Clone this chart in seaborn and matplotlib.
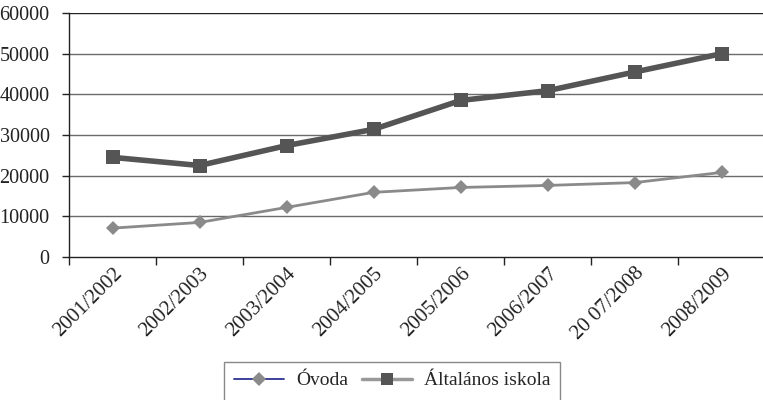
import matplotlib
matplotlib.use("Agg")
import matplotlib.pyplot as plt
import matplotlib.transforms as mtransforms
from matplotlib.patches import Rectangle
import seaborn as sns
import pandas as pd
from matplotlib.lines import Line2D

years = ["2001/2002", "2002/2003", "2003/2004", "2004/2005",
         "2005/2006", "2006/2007", "2007/2008", "2008/2009"]
year_labels = ["2001/2002", "2002/2003", "2003/2004", "2004/2005",
               "2005/2006", "2006/2007", "20 07/2008", "2008/2009"]
ovoda = [7100, 8500, 12200, 15900, 17100, 17600, 18300, 20800]
altalanos = [24500, 22500, 27400, 31400, 38500, 40900, 45500, 50000]
yticks = [0, 10000, 20000, 30000, 40000, 50000, 60000]

sns.set_theme(style="white")
plt.rcParams['font.family'] = ['Liberation Serif', 'DejaVu Serif']

df = pd.DataFrame({"x": list(range(len(years))) * 2,
                   "y": ovoda + altalanos,
                   "s": ["Óvoda"] * len(years) + ["Általános iskola"] * len(years)})

fig = plt.figure(figsize=(7.63, 4.0), dpi=100)
ax = fig.add_axes([69/763, 1 - 257/400, 1 - 69/763 + 0.003, (257 - 13)/400])

for yv in yticks[1:]:
    ax.axhline(yv, color="#222222" if yv == 60000 else "#6a6a6a", lw=1.0, zorder=0)

sns.lineplot(data=df[df.s == "Óvoda"], x="x", y="y", ax=ax, color="#8a8a8a",
             lw=2.0, marker="D", markersize=7, markeredgewidth=0, legend=False)
sns.lineplot(data=df[df.s == "Általános iskola"], x="x", y="y", ax=ax, color="#555555",
             lw=4.0, marker="s", markersize=10, markeredgewidth=0, legend=False)

ax.set_xlim(-0.5, len(years) - 0.5)
ax.set_ylim(0, 60000)
ax.set_yticks(yticks)
ax.set_yticklabels([str(v) for v in yticks], fontsize=14.5, color="#222222")
ax.set_xticks([i for i in range(len(years))])
ax.set_xticklabels(year_labels, rotation=45, ha="right", rotation_mode="anchor",
                   fontsize=15, color="#222222")
offset = mtransforms.ScaledTranslation(11/100, 0, fig.dpi_scale_trans)
for lab in ax.get_xticklabels():
    lab.set_transform(lab.get_transform() + offset)
ax.tick_params(axis="x", which="major", length=0, pad=5)
ax.set_xticks([i - 0.5 for i in range(len(years))], minor=True)
ax.tick_params(axis="x", which="minor", length=6, width=1, color="#222222", bottom=True)
ax.tick_params(axis="y", length=5, width=1, color="#222222", left=True, pad=9)
ax.set_xlabel("")
ax.set_ylabel("")
for side in ["top", "right"]:
    ax.spines[side].set_visible(False)
for side in ["left", "bottom"]:
    ax.spines[side].set_color("#222222")
    ax.spines[side].set_linewidth(1.0)

handles = [
    Line2D([], [], color="#2e3192", lw=1.3, marker="D", markersize=7,
           markerfacecolor="#8a8a8a", markeredgewidth=0),
    Line2D([], [], color="#999999", lw=2.5, marker="s", markersize=9,
           markerfacecolor="#555555", markeredgewidth=0),
]
leg = fig.legend(handles, ["Óvoda", "Általános iskola"], loc="upper center",
                 bbox_to_anchor=(392/763, 1 - 362/400), ncol=2, frameon=True,
                 fancybox=False, edgecolor="#888888", fontsize=14,
                 handlelength=2.6, columnspacing=0.7, handletextpad=0.6,
                 borderpad=0.5, borderaxespad=0)
leg.get_frame().set_linewidth(1.0)

# extend legend box below the figure edge (as in the reference, box is cut off)
fig.canvas.draw()
bb = leg.get_window_extent().transformed(fig.transFigure.inverted())
leg.set_frame_on(False)
fig.add_artist(Rectangle((bb.x0, bb.y0 - 0.05), bb.width, bb.height + 0.05,
                         transform=fig.transFigure, fill=False,
                         edgecolor="#888888", lw=1.0))

fig.savefig("out.png", dpi=100)
